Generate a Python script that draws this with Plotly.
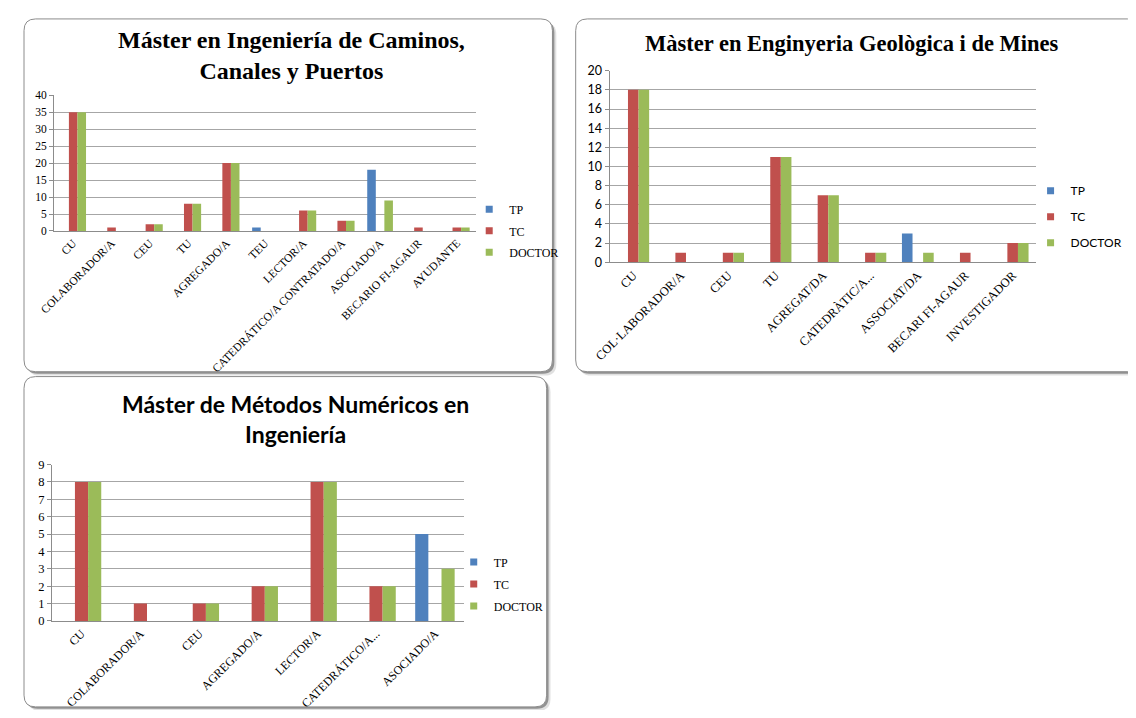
import plotly.graph_objects as go

# figure sized to fit inside the 1136x718 window together with the 8px page margin
W, H = 1120, 702
OFF = 8

# ---------------- data ----------------
series_names = ["TP", "TC", "DOCTOR"]
series_colors = ["#4F81BD", "#C0504D", "#9BBB59"]

c1_title = "Máster en Ingeniería de Caminos,<br>Canales y Puertos"
c1_categories = ["CU", "COLABORADOR/A", "CEU", "TU", "AGREGADO/A", "TEU", "LECTOR/A",
                 "CATEDRÁTICO/A CONTRATADO/A", "ASOCIADO/A", "BECARIO FI-AGAUR", "AYUDANTE"]
c1_tp = [0, 0, 0, 0, 0, 1, 0, 0, 18, 0, 0]
c1_tc = [35, 1, 2, 8, 20, 0, 6, 3, 0, 1, 1]
c1_doctor = [35, 0, 2, 8, 20, 0, 6, 3, 9, 0, 1]

c2_title = "Màster en Enginyeria Geològica i de Mines"
c2_categories = ["CU", "COL·LABORADOR/A", "CEU", "TU", "AGREGAT/DA", "CATEDRÀTIC/A...",
                 "ASSOCIAT/DA", "BECARI FI-AGAUR", "INVESTIGADOR"]
c2_tp = [0, 0, 0, 0, 0, 0, 3, 0, 0]
c2_tc = [18, 1, 1, 11, 7, 1, 0, 1, 2]
c2_doctor = [18, 0, 1, 11, 7, 1, 1, 0, 2]

c3_title = "Máster de Métodos Numéricos en<br>Ingeniería"
c3_categories = ["CU", "COLABORADOR/A", "CEU", "AGREGADO/A", "LECTOR/A", "CATEDRÁTICO/A...", "ASOCIADO/A"]
c3_tp = [0, 0, 0, 0, 0, 0, 5]
c3_tc = [8, 1, 1, 2, 8, 2, 0]
c3_doctor = [8, 0, 1, 2, 8, 2, 3]

# ---------------- helpers (screen pixels -> paper) ----------------
def px(x):
    return (x - OFF) / W

def py(y):
    return 1 - (y - OFF) / H

def rrect(x0, y0, x1, y1, r):
    pts = [
        f"M {px(x0 + r)},{py(y0)}",
        f"L {px(x1 - r)},{py(y0)}",
        f"Q {px(x1)},{py(y0)} {px(x1)},{py(y0 + r)}",
        f"L {px(x1)},{py(y1 - r)}",
        f"Q {px(x1)},{py(y1)} {px(x1 - r)},{py(y1)}",
        f"L {px(x0 + r)},{py(y1)}",
        f"Q {px(x0)},{py(y1)} {px(x0)},{py(y1 - r)}",
        f"L {px(x0)},{py(y0 + r)}",
        f"Q {px(x0)},{py(y0)} {px(x0 + r)},{py(y0)}",
        "Z",
    ]
    return " ".join(pts)

SERIF = "Liberation Serif"
SANS = "Lato"

fig = go.Figure()

charts = [
    (c1_categories, [c1_tp, c1_tc, c1_doctor], "x", "y", "legend"),
    (c2_categories, [c2_tp, c2_tc, c2_doctor], "x2", "y2", "legend2"),
    (c3_categories, [c3_tp, c3_tc, c3_doctor], "x3", "y3", "legend3"),
]
for cats, vals, xa, ya, lg in charts:
    for name, color, v in zip(series_names, series_colors, vals):
        fig.add_trace(go.Bar(
            x=cats, y=v, name=name, marker=dict(color=color, line=dict(width=0)),
            xaxis=xa, yaxis=ya, showlegend=False, legendgroup=lg + name,
        ))
    # legend entries with the small square keys of the original
    for name, color in zip(series_names, series_colors):
        fig.add_trace(go.Scatter(
            x=[None], y=[None], mode="markers", name=name,
            marker=dict(symbol="square", size=7, color=color),
            xaxis=xa, yaxis=ya, legend=lg, legendgroup=lg + name, showlegend=True,
            hoverinfo="skip",
        ))

# ---------------- panel frames ----------------
shapes = []
panels = [(8, 11, 554, 372), (578, 11, 1160, 372), (8, 377, 548, 715)]
for (x0, y0, x1, y1) in panels:
    shapes.append(dict(type="path", path=rrect(x0 + 4, y0 + 4, x1 + 4, y1 + 4, 12), xref="paper", yref="paper",
                       fillcolor="rgba(0,0,0,0.12)", line=dict(width=0), layer="below"))
    shapes.append(dict(type="path", path=rrect(x0 + 2, y0 + 2, x1 + 2, y1 + 2, 12), xref="paper", yref="paper",
                       fillcolor="rgba(0,0,0,0.35)", line=dict(width=0), layer="below"))
    shapes.append(dict(type="path", path=rrect(x0, y0, x1, y1, 12), xref="paper", yref="paper",
                       fillcolor="white", line=dict(color="#8C8C8C", width=1), layer="below"))

# ---------------- titles ----------------
annotations = [
    dict(text=f"<b>{c1_title}</b>", x=px(284), y=py(48), xref="paper", yref="paper", showarrow=False,
         font=dict(family=SERIF, size=24, color="#000"), align="center", xanchor="center", yanchor="middle"),
    dict(text=f"<b>{c2_title}</b>", x=px(863), y=py(36), xref="paper", yref="paper", showarrow=False,
         font=dict(family=SERIF, size=22.5, color="#000"), align="center", xanchor="center", yanchor="middle"),
    dict(text=f"<b>{c3_title}</b>", x=px(288), y=py(420), xref="paper", yref="paper", showarrow=False,
         font=dict(family=SANS, size=23, color="#000"), align="center", xanchor="center", yanchor="middle"),
]

GRID = "#A6A6A6"

def yax(domain, rng, dtick, anchor, fam, size):
    return dict(domain=domain, range=rng, dtick=dtick, anchor=anchor, showgrid=True, gridcolor=GRID,
                gridwidth=1, showline=True, linecolor="#8C8C8C", linewidth=1, ticks="outside",
                ticklen=4, tickcolor="#8C8C8C", zeroline=False,
                tickfont=dict(family=fam, size=size, color="#000"), fixedrange=True)

def xax(domain, anchor, fam, size):
    return dict(domain=domain, anchor=anchor, type="category", showline=True, linecolor="#8C8C8C",
                linewidth=1, tickangle=-45, ticks="", showgrid=False,
                tickfont=dict(family=fam, size=size, color="#000"), fixedrange=True)

def legend(x, y, fam, size, gap):
    return dict(x=px(x), y=py(y), xanchor="left", yanchor="top", xref="paper", yref="paper",
                font=dict(family=fam, size=size, color="#000"), bgcolor="rgba(0,0,0,0)",
                tracegroupgap=gap, traceorder="grouped", itemwidth=30)

fig.update_layout(
    width=W, height=H, margin=dict(l=0, r=0, t=0, b=0),
    paper_bgcolor="white", plot_bgcolor="rgba(0,0,0,0)",
    barmode="group", bargap=0.33, bargroupgap=0,
    shapes=shapes, annotations=annotations,
    xaxis=xax([px(39), px(475)], "y", SERIF, 11.5),
    yaxis=yax([py(228), py(89)], [0, 40], 5, "x", SERIF, 11.5),
    xaxis2=xax([px(613), px(1054)], "y2", SERIF, 12.5),
    yaxis2=yax([py(260), py(64)], [0, 20], 2, "x2", SANS, 12.5),
    xaxis3=xax([px(37), px(463)], "y3", SERIF, 12),
    yaxis3=yax([py(627), py(467)], [0, 9], 1, "x3", SERIF, 12.5),
    legend=legend(468, 191, SERIF, 12, 2.5),
    legend2=legend(1048, 172, SANS, 12, 7),
    legend3=legend(452, 552, SERIF, 12, 3),
    showlegend=True,
)

fig.write_html("out.html")
